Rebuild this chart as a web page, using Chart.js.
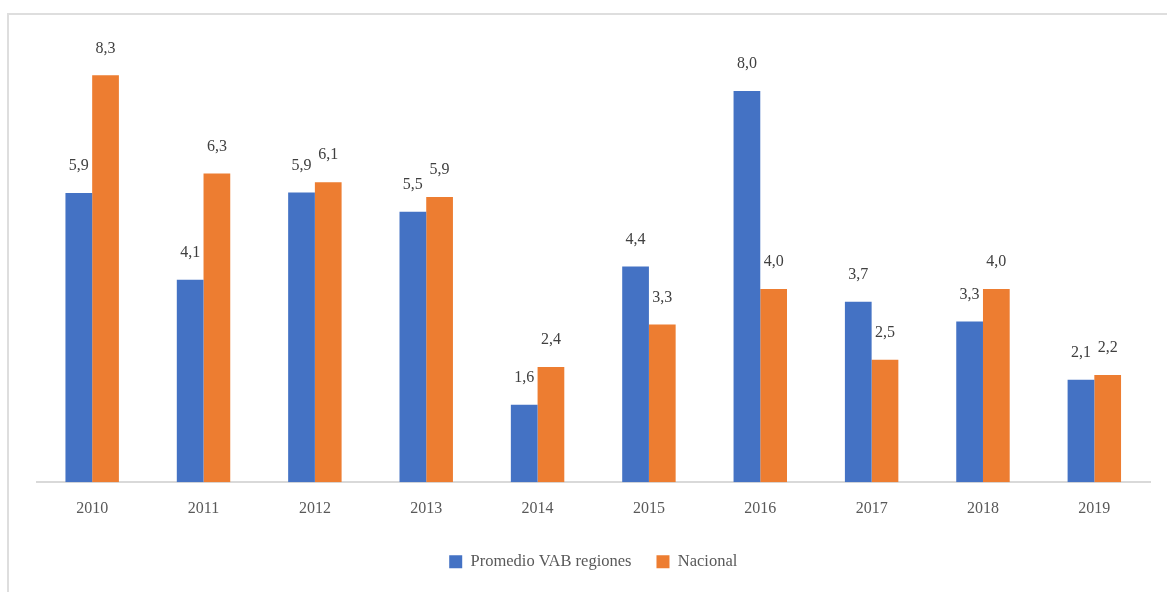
<!DOCTYPE html>
<html>
<head>
<meta charset="utf-8">
<script src="https://cdn.jsdelivr.net/npm/chart.js@4/dist/chart.umd.min.js"></script>
<style>
  html, body { margin: 0; padding: 0; background: #ffffff; }
  #wrap { position: relative; width: 1167px; height: 592px; overflow: hidden; }
  #frame { position: absolute; left: 7px; top: 13px; width: 1200px; height: 640px; border: 2px solid #dedede; box-sizing: border-box; }
  #c { position: absolute; left: 0; top: 0; }
</style>
</head>
<body>
<div id="wrap">
  <div id="frame"></div>
  <canvas id="c" width="1167" height="592"></canvas>
</div>
<script>
const categories = ["2010","2011","2012","2013","2014","2015","2016","2017","2018","2019"];
const regionesValues = [5.90, 4.13, 5.91, 5.52, 1.58, 4.40, 7.98, 3.68, 3.28, 2.09];
const nacionalValues = [8.30, 6.30, 6.12, 5.82, 2.35, 3.22, 3.94, 2.50, 3.94, 2.19];
const regionesLabels = ["5,9","4,1","5,9","5,5","1,6","4,4","8,0","3,7","3,3","2,1"];
const nacionalLabels = ["8,3","6,3","6,1","5,9","2,4","3,3","4,0","2,5","4,0","2,2"];
const seriesNames = ["Promedio VAB regiones", "Nacional"];

const FONT = "'Liberation Serif', 'DejaVu Serif', serif";

const valueLabels = {
  id: 'valueLabels',
  afterDatasetsDraw(chart) {
    const ctx = chart.ctx;
    ctx.save();
    ctx.font = "16px " + FONT;
    ctx.fillStyle = "#404040";
    ctx.textAlign = "center";
    ctx.textBaseline = "middle";
    const labelSets = [regionesLabels, nacionalLabels];
    chart.data.datasets.forEach((ds, di) => {
      const meta = chart.getDatasetMeta(di);
      meta.data.forEach((bar, i) => {
        ctx.fillText(labelSets[di][i], bar.x, bar.y - 27);
      });
    });
    ctx.restore();
  }
};

new Chart(document.getElementById('c'), {
  type: 'bar',
  data: {
    labels: categories,
    datasets: [
      { label: seriesNames[0], data: regionesValues, backgroundColor: '#4472C4', categoryPercentage: 0.48, barPercentage: 1.0 },
      { label: seriesNames[1], data: nacionalValues, backgroundColor: '#ED7D31', categoryPercentage: 0.48, barPercentage: 1.0 }
    ]
  },
  options: {
    responsive: false,
    animation: false,
    layout: { padding: { left: 36.5, right: 17, top: 41, bottom: 12 } },
    scales: {
      x: {
        grid: { display: false, drawTicks: false },
        border: { display: true, color: '#d9d9d9', width: 2 },
        ticks: { color: '#595959', font: { family: FONT, size: 16 }, padding: 16.5 },
        afterFit: (scale) => { scale.height = 46.2; }
      },
      y: {
        display: false,
        min: 0,
        max: 9
      }
    },
    plugins: {
      legend: {
        position: 'bottom',
        labels: {
          color: '#595959',
          font: { family: FONT, size: 16.5 },
          boxWidth: 13,
          boxHeight: 13,
          padding: 25
        }
      },
      tooltip: { enabled: false }
    }
  },
  plugins: [valueLabels]
});
</script>
</body>
</html>
